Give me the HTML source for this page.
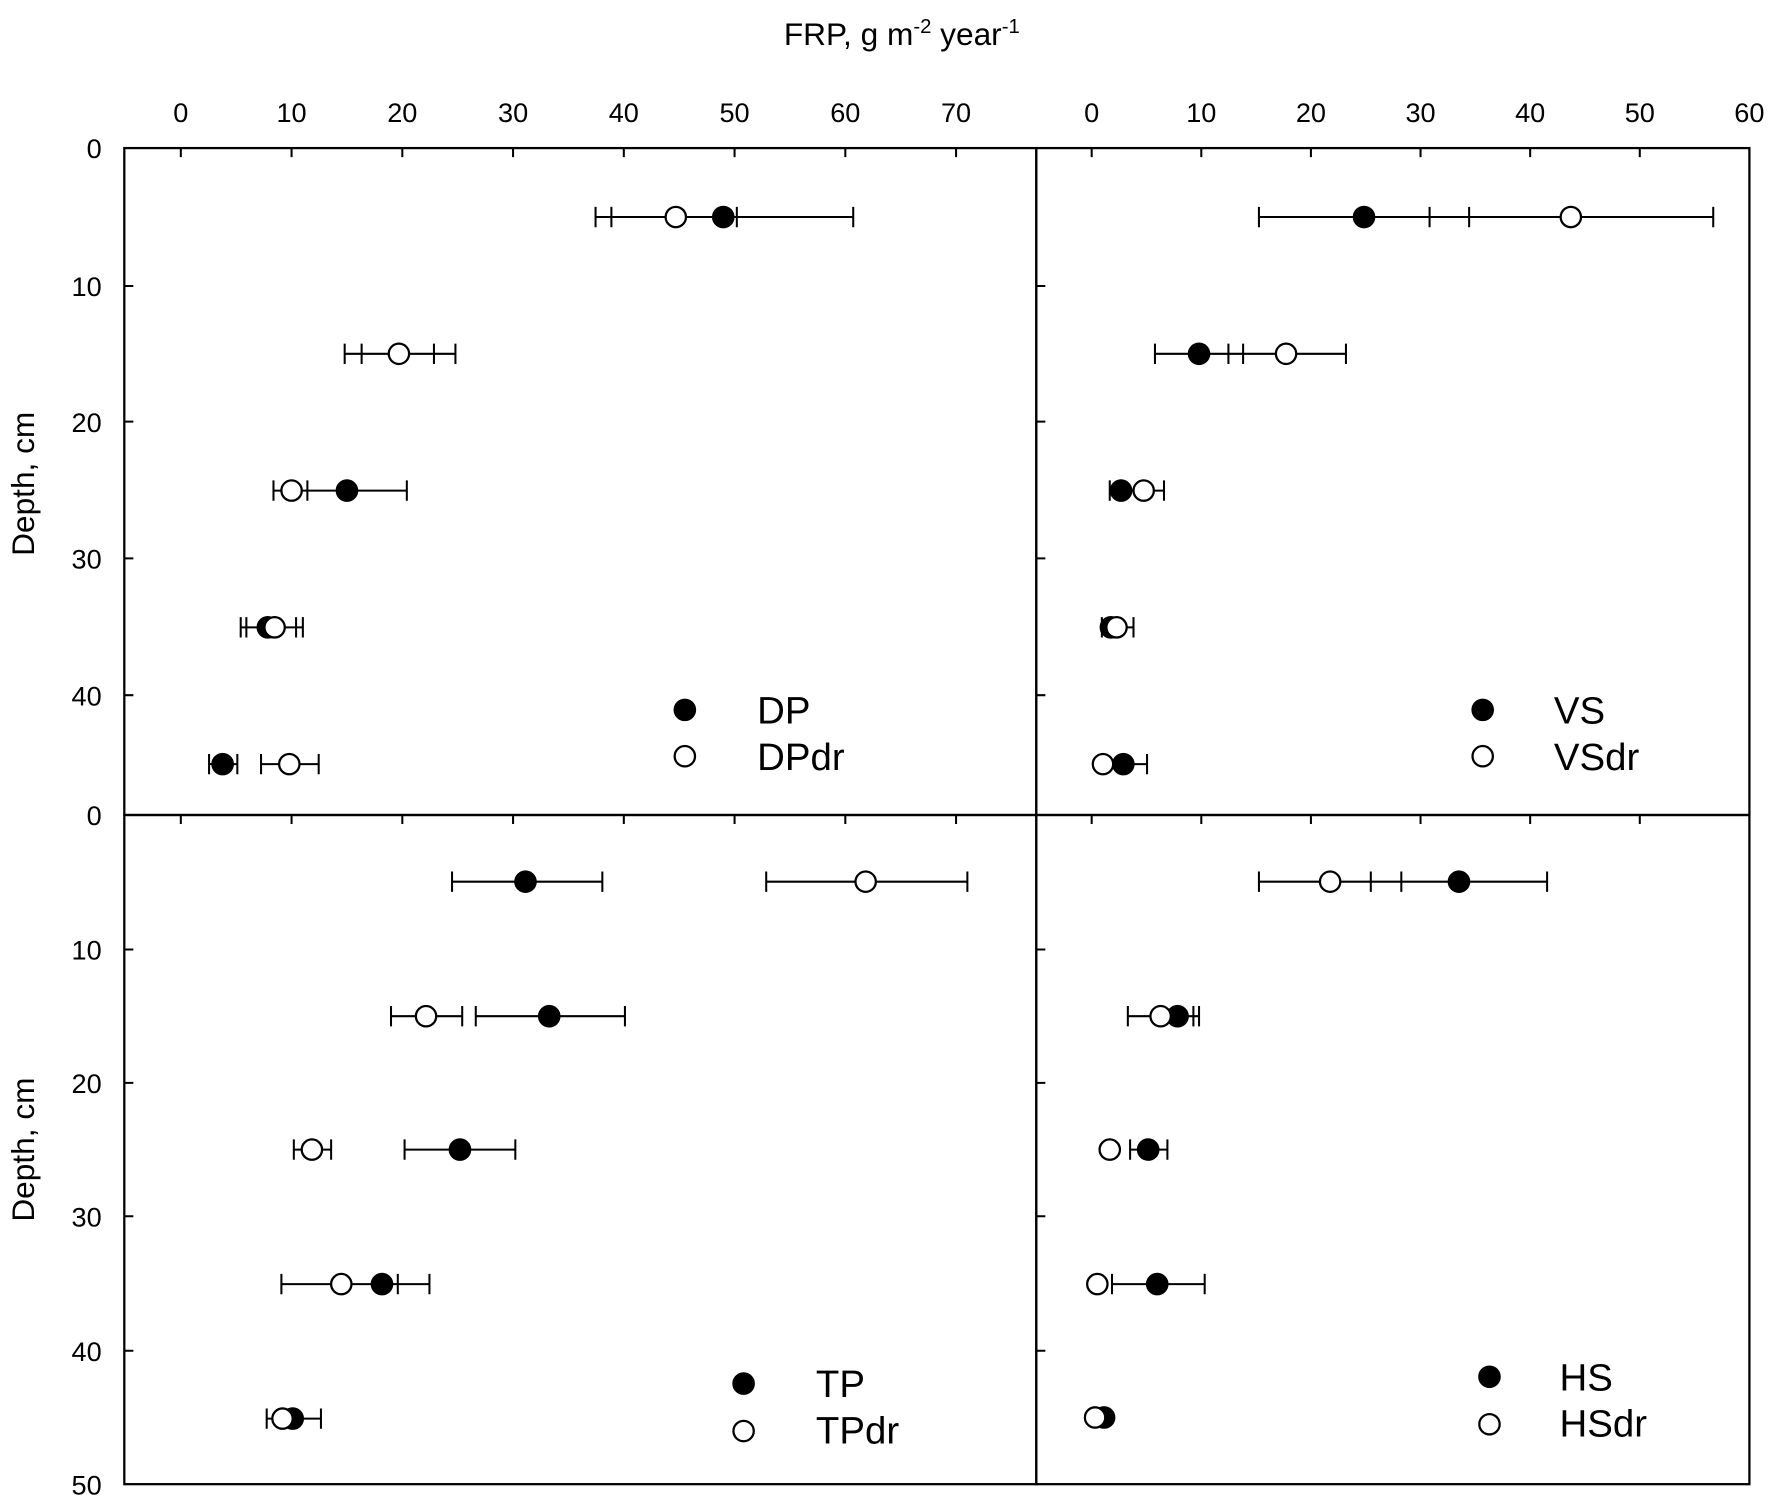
<!DOCTYPE html>
<html><head><meta charset="utf-8"><style>
html,body{margin:0;padding:0;background:#fff;}
svg{display:block;}
text{font-family:"Liberation Sans",sans-serif;fill:#000;}
</style></head><body>
<svg width="1772" height="1500" viewBox="0 0 1568 1327" preserveAspectRatio="none" xmlns="http://www.w3.org/2000/svg">
<g stroke="#000" stroke-width="2" fill="none">
<rect x="110" y="131" width="807" height="590"/>
<rect x="917" y="131" width="631" height="590"/>
<rect x="110" y="721" width="807" height="592"/>
<rect x="917" y="721" width="631" height="592"/>
</g>
<g stroke="#000" stroke-width="1.8">
<path d="M160 131v8M258 131v8M356 131v8M454 131v8M552 131v8M650 131v8M748 131v8M846 131v8"/>
<path d="M160 721v8M258 721v8M356 721v8M454 721v8M552 721v8M650 721v8M748 721v8M846 721v8"/>
<path d="M966 131v8M1063 131v8M1160 131v8M1257 131v8M1354 131v8M1451 131v8"/>
<path d="M966 721v8M1063 721v8M1160 721v8M1257 721v8M1354 721v8M1451 721v8"/>
<path d="M110 253h8M110 373h8M110 494h8M110 615h8"/>
<path d="M917 253h8M917 373h8M917 494h8M917 615h8"/>
<path d="M110 840h8M110 958h8M110 1076h8M110 1195h8"/>
<path d="M917 840h8M917 958h8M917 1076h8M917 1195h8"/>
</g>
<g font-size="24" text-anchor="middle">
<text x="160" y="108">0</text><text x="258" y="108">10</text><text x="356" y="108">20</text><text x="454" y="108">30</text><text x="552" y="108">40</text><text x="650" y="108">50</text><text x="748" y="108">60</text><text x="846" y="108">70</text>
<text x="966" y="108">0</text><text x="1063" y="108">10</text><text x="1160" y="108">20</text><text x="1257" y="108">30</text><text x="1354" y="108">40</text><text x="1451" y="108">50</text><text x="1548" y="108">60</text>
</g>
<g font-size="24" text-anchor="end">
<text x="90" y="140">0</text><text x="90" y="262">10</text><text x="90" y="382">20</text><text x="90" y="503">30</text><text x="90" y="624">40</text><text x="90" y="730">0</text>
<text x="90" y="849">10</text><text x="90" y="967">20</text><text x="90" y="1085">30</text><text x="90" y="1204">40</text><text x="90" y="1322">50</text>
</g>
<text x="798" y="40" font-size="28" text-anchor="middle">FRP, g m<tspan font-size="18" dy="-11">-2</tspan><tspan dy="11"> year</tspan><tspan font-size="18" dy="-11">-1</tspan></text>
<text transform="translate(30,428) rotate(-90)" font-size="28" text-anchor="middle">Depth, cm</text>
<text transform="translate(30,1017) rotate(-90)" font-size="28" text-anchor="middle">Depth, cm</text>
<g stroke="#000" stroke-width="1.8" fill="none">
<path d="M527 192H755M527 183v18M541 183v18M652 183v18M755 183v18"/>
<path d="M305 313H403M305 304v18M320 304v18M384 304v18M403 304v18"/>
<path d="M242 434H360M242 425v18M272 425v18M360 425v18"/>
<path d="M213 555H268M213 546v18M218 546v18M262 546v18M268 546v18"/>
<path d="M185 676H210M185 667v18M210 667v18M231 676H282M231 667v18M282 667v18"/>
<path d="M1114 192H1516M1114 183v18M1265 183v18M1300 183v18M1516 183v18"/>
<path d="M1022 313H1191M1022 304v18M1087 304v18M1100 304v18M1191 304v18"/>
<path d="M982 434H1030M982 425v18M1030 425v18"/>
<path d="M975 555H1003M975 546v18M1003 546v18"/>
<path d="M994 676H1015M1015 667v18"/>
<path d="M400 780H533M400 771v18M533 771v18M678 780H856M678 771v18M856 771v18"/>
<path d="M346 899H409M346 890v18M409 890v18M421 899H553M421 890v18M553 890v18"/>
<path d="M260 1017H293M260 1008v18M293 1008v18M358 1017H456M358 1008v18M456 1008v18"/>
<path d="M249 1136H380M249 1127v18M352 1127v18M380 1127v18"/>
<path d="M236 1255H284M236 1246v18M284 1246v18"/>
<path d="M1114 780H1369M1114 771v18M1213 771v18M1240 771v18M1369 771v18"/>
<path d="M998 899H1061M998 890v18M1056 890v18M1061 890v18"/>
<path d="M1000 1017H1033M1000 1008v18M1033 1008v18"/>
<path d="M984 1136H1066M984 1127v18M1066 1127v18"/>
</g>
<g stroke="#000" stroke-width="2">
<g fill="#fff">
<circle cx="598" cy="192" r="9"/><circle cx="353" cy="313" r="9"/><circle cx="258" cy="434" r="9"/><circle cx="256" cy="676" r="9"/>
<circle cx="606" cy="669" r="9"/>
</g>
<g fill="#000">
<circle cx="640" cy="192" r="9"/><circle cx="307" cy="434" r="9"/><circle cx="237" cy="555" r="9"/><circle cx="197" cy="676" r="9"/><circle cx="606" cy="628" r="9"/>
</g>
<circle cx="243" cy="555" r="9" fill="#fff"/>
<g fill="#000"><circle cx="1207" cy="192" r="9"/><circle cx="1061" cy="313" r="9"/><circle cx="992" cy="434" r="9"/><circle cx="983" cy="555" r="9"/><circle cx="1312" cy="628" r="9"/></g>
<g fill="#fff"><circle cx="1390" cy="192" r="9"/><circle cx="1138" cy="313" r="9"/><circle cx="1012" cy="434" r="9"/><circle cx="988" cy="555" r="9"/><circle cx="976" cy="676" r="9"/><circle cx="1312" cy="669" r="9"/></g>
<circle cx="994" cy="676" r="9" fill="#000"/>
<g fill="#000"><circle cx="465" cy="780" r="9"/><circle cx="486" cy="899" r="9"/><circle cx="407" cy="1017" r="9"/><circle cx="338" cy="1136" r="9"/><circle cx="259" cy="1255" r="9"/><circle cx="658" cy="1224" r="9"/></g>
<g fill="#fff"><circle cx="766" cy="780" r="9"/><circle cx="377" cy="899" r="9"/><circle cx="276" cy="1017" r="9"/><circle cx="302" cy="1136" r="9"/><circle cx="250" cy="1255" r="9"/><circle cx="658" cy="1266" r="9"/></g>
<circle cx="1291" cy="780" r="9" fill="#000"/><circle cx="1177" cy="780" r="9" fill="#fff"/>
<circle cx="1042" cy="899" r="9" fill="#000"/><circle cx="1027" cy="899" r="9" fill="#fff"/>
<circle cx="1016" cy="1017" r="9" fill="#000"/><circle cx="982" cy="1017" r="9" fill="#fff"/>
<circle cx="1024" cy="1136" r="9" fill="#000"/><circle cx="971" cy="1136" r="9" fill="#fff"/>
<circle cx="977" cy="1254" r="9" fill="#000"/><circle cx="969" cy="1254" r="9" fill="#fff"/>
<circle cx="1318" cy="1218" r="9" fill="#000"/><circle cx="1318" cy="1260" r="9" fill="#fff"/>
</g>
<g font-size="34">
<text x="670" y="640">DP</text><text x="670" y="681">DPdr</text>
<text x="1375" y="640">VS</text><text x="1375" y="681">VSdr</text>
<text x="722" y="1236">TP</text><text x="722" y="1277">TPdr</text>
<text x="1380" y="1230">HS</text><text x="1380" y="1271">HSdr</text>
</g>
</svg>
</body></html>
